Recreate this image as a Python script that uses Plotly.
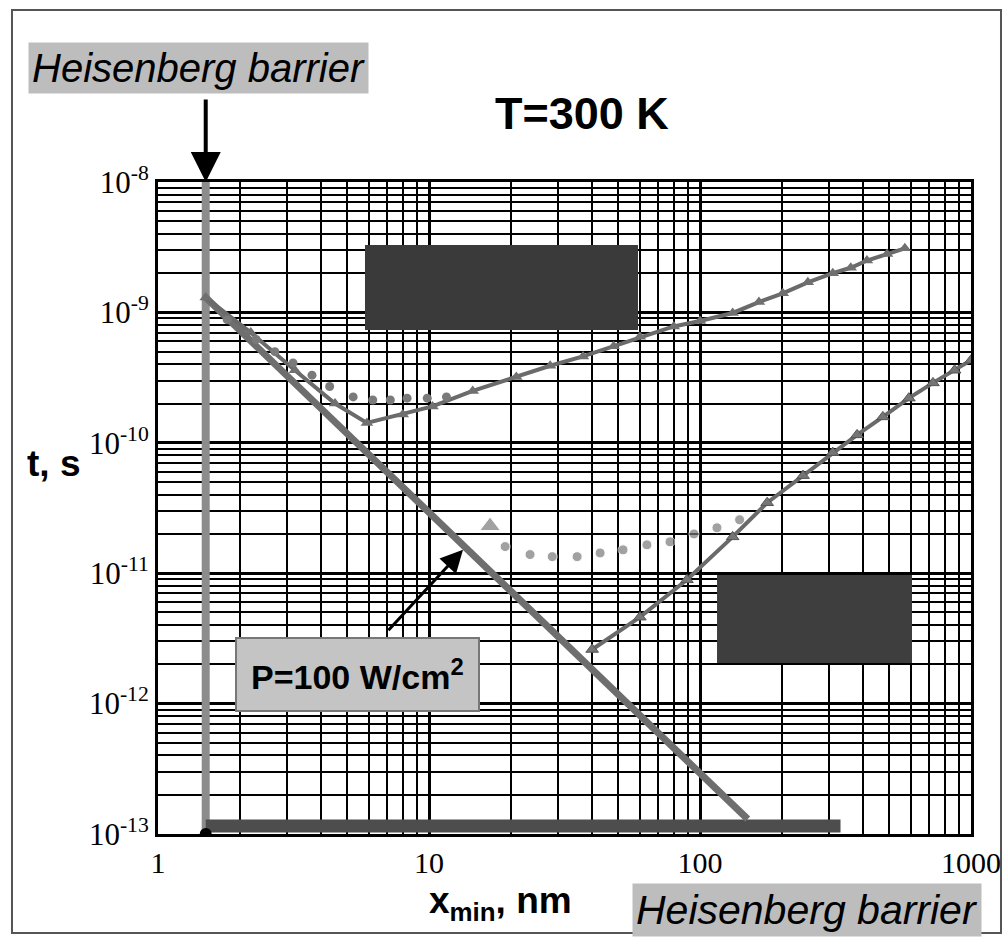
import plotly.graph_objects as go

# ---- data ----
barrier_x = [1.5, 1.5]
barrier_y = [1e-13, 1e-8]

floor_x = [1.5, 330]
floor_y = [1.15e-13, 1.15e-13]

diag_x = [1.5, 150]
diag_y = [1.3e-9, 1.3e-13]

up_tri_x = [1.5, 2.2, 3.2, 4.5, 5.9, 8.0, 10.3, 14.5, 21, 28, 37, 48, 60, 80, 100, 132, 165, 202, 250, 309, 360, 413, 490, 570]
up_tri_y = [1.3e-9, 7.0e-10, 3.6e-10, 2.0e-10, 1.42e-10, 1.65e-10, 1.9e-10, 2.5e-10, 3.2e-10, 3.9e-10, 4.6e-10, 5.5e-10, 6.5e-10, 7.8e-10, 8.6e-10, 9.9e-10, 1.2e-9, 1.4e-9, 1.7e-9, 2.0e-9, 2.2e-9, 2.5e-9, 2.8e-9, 3.1e-9]

up_dot_x = [1.8, 2.3, 2.7, 3.15, 3.7, 4.3, 5.25, 6.2, 7.2, 8.3, 9.85, 11.6]
up_dot_y = [8.8e-10, 6.2e-10, 5.0e-10, 4.1e-10, 3.3e-10, 2.7e-10, 2.25e-10, 2.13e-10, 2.13e-10, 2.2e-10, 2.2e-10, 2.25e-10]

lo_dot_x = [16.8, 19.1, 23.6, 28.5, 35.2, 42.8, 52, 63.7, 77.5, 95, 115.5, 140]
lo_dot_y = [2.3e-11, 1.6e-11, 1.39e-11, 1.34e-11, 1.34e-11, 1.43e-11, 1.51e-11, 1.65e-11, 1.74e-11, 2.0e-11, 2.23e-11, 2.57e-11]

lo_tri_x = [40, 60, 89.5, 132, 177, 240, 309, 380, 473, 590, 724, 870, 1000]
lo_tri_y = [2.6e-12, 4.6e-12, 8.9e-12, 1.9e-11, 3.47e-11, 5.6e-11, 8.4e-11, 1.15e-10, 1.58e-10, 2.2e-10, 2.88e-10, 3.6e-10, 4.3e-10]

x_ticks = [1, 10, 100, 1000]
y_ticks = [1e-13, 1e-12, 1e-11, 1e-10, 1e-9, 1e-8]
y_tick_text = ["10<sup>-13</sup>", "10<sup>-12</sup>", "10<sup>-11</sup>", "10<sup>-10</sup>", "10<sup>-9</sup>", "10<sup>-8</sup>"]

fig = go.Figure()

fig.add_trace(go.Scatter(x=barrier_x, y=barrier_y, mode="lines",
                         line=dict(color="#8c8c8c", width=8), showlegend=False))
fig.add_trace(go.Scatter(x=floor_x, y=floor_y, mode="lines",
                         line=dict(color="#4d4d4d", width=13), showlegend=False))
fig.add_trace(go.Scatter(x=[floor_x[0]], y=[barrier_y[0]], mode="markers",
                         marker=dict(color="black", size=12), showlegend=False))
fig.add_trace(go.Scatter(x=diag_x, y=diag_y, mode="lines",
                         line=dict(color="#6e6e6e", width=7), showlegend=False))
fig.add_trace(go.Scatter(x=up_tri_x, y=up_tri_y, mode="lines+markers",
                         line=dict(color="#6a6a6a", width=4),
                         marker=dict(symbol="triangle-up", size=11, color="#707070"),
                         showlegend=False))
fig.add_trace(go.Scatter(x=up_dot_x, y=up_dot_y, mode="markers",
                         marker=dict(symbol="circle", size=9, color="#7a7a7a"),
                         showlegend=False))
fig.add_trace(go.Scatter(x=lo_dot_x, y=lo_dot_y, mode="markers",
                         marker=dict(symbol=["triangle-up"] + ["circle"] * (len(lo_dot_x) - 1),
                                     size=[18] + [10] * (len(lo_dot_x) - 1), color="#7a7a7a"),
                         showlegend=False))
fig.add_trace(go.Scatter(x=lo_tri_x, y=lo_tri_y, mode="lines+markers",
                         line=dict(color="#6a6a6a", width=4),
                         marker=dict(symbol="triangle-up", size=11, color="#757575",
                                     line=dict(color="#555555", width=1)),
                         showlegend=False))

grid_common = dict(showgrid=True, gridcolor="black", gridwidth=2.5,
                   showline=True, linecolor="black", linewidth=3, mirror=True,
                   ticks="", zeroline=False, automargin=False)

fig.update_xaxes(type="log", range=[0, 3], tickvals=x_ticks,
                 ticktext=[str(v) for v in x_ticks],
                 tickfont=dict(family="Liberation Serif", size=30, color="black"),
                 minor=dict(showgrid=True, gridcolor="black", gridwidth=2, dtick="D1"),
                 **grid_common)
fig.update_yaxes(type="log", range=[-13, -8], tickvals=y_ticks, ticktext=y_tick_text,
                 tickfont=dict(family="Liberation Serif", size=31, color="black"),
                 minor=dict(showgrid=True, gridcolor="black", gridwidth=2, dtick="D1"),
                 **grid_common)

shapes = [
    # outer frame
    dict(type="rect", xref="paper", yref="paper", x0=-0.1796, x1=1.0369, y0=-0.1518, y1=1.2638,
         line=dict(color="#555555", width=2), layer="below"),
    # dark (obscured legend) boxes
    dict(type="rect", xref="paper", yref="paper", x0=0.2546, x1=0.5904, y0=0.773, y1=0.9034,
         fillcolor="#3a3a3a", line=dict(width=0), layer="above"),
    dict(type="rect", xref="paper", yref="paper", x0=0.6876, x1=0.9274, y0=0.2623, y1=0.3972,
         fillcolor="#3e3e3e", line=dict(width=0), layer="above"),
]

sans = "Liberation Sans"
C = dict(xanchor="center", yanchor="middle", xref="paper", yref="paper", showarrow=False)
annotations = [
    dict(text="<i>Heisenberg barrier</i>", x=0.0504, y=1.1741,
         font=dict(family=sans, size=40, color="black"),
         bgcolor="#bdbdbd", borderpad=3, **C),
    dict(text="", x=0.1761, y=-8, xref="x", yref="y", showarrow=True,
         ax=0, ay=-84, arrowhead=2, arrowwidth=4, arrowsize=1.5, arrowcolor="black"),
    dict(text="<b>T=300 K</b>", x=0.522, y=1.1043,
         font=dict(family=sans, size=45, color="black"), **C),
    dict(text="<b>t, s</b>", x=-0.129, y=0.569,
         font=dict(family=sans, size=37, color="black"), **C),
    dict(text="<b>x<sub>min</sub>, nm</b>", x=0.4207, y=-0.1058,
         font=dict(family=sans, size=37, color="black"), **C),
    dict(text="<i>Heisenberg barrier</i>", x=0.7983, y=-0.1166,
         font=dict(family=sans, size=41, color="black"),
         bgcolor="#bdbdbd", borderpad=3, **C),
    dict(text="<b>P=100 W/cm<sup>2</sup></b>", x=0.2448, y=0.2439,
         font=dict(family=sans, size=34, color="black"),
         bgcolor="#c4c4c4", bordercolor="#777777", borderwidth=2, borderpad=14, **C),
    dict(text="", x=1.1255, y=-10.82, xref="x", yref="y", showarrow=True,
         ax=-76, ay=82, arrowhead=2, arrowwidth=3, arrowsize=1.5, arrowcolor="black"),
]

fig.update_layout(width=1004, height=943, margin=dict(l=158, r=33, t=182, b=109),
                  paper_bgcolor="white", plot_bgcolor="white",
                  shapes=shapes, annotations=annotations, showlegend=False)

fig.write_html("out.html")
